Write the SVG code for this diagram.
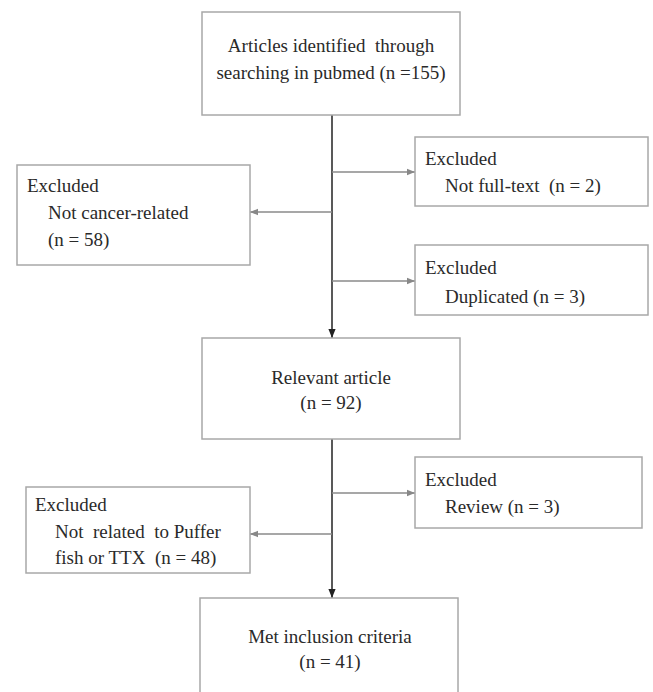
<svg xmlns="http://www.w3.org/2000/svg" width="653" height="692" viewBox="0 0 653 692">
<defs>
<marker id="ah" viewBox="0 0 10 10" refX="10" refY="5" markerWidth="8" markerHeight="8" markerUnits="userSpaceOnUse" orient="auto"><path d="M0,1 L10,5 L0,9 z" fill="#888"/></marker>
<marker id="ahd" viewBox="0 0 10 10" refX="10" refY="5" markerWidth="9" markerHeight="9" markerUnits="userSpaceOnUse" orient="auto"><path d="M0,1 L10,5 L0,9 z" fill="#222"/></marker>
</defs>
<style>
rect{fill:#fff;stroke:#a8a8a8;stroke-width:1.5}
text{font-family:'Liberation Serif','DejaVu Serif',serif;font-size:19px;fill:#2a2a2a}
.c{text-anchor:middle}
.side{stroke:#8a8a8a;stroke-width:1.5;fill:none}
.main{stroke:#222;stroke-width:1.5;fill:none}
</style>
<rect x="0" y="0" width="653" height="692" style="fill:#fff;stroke:none"/>
<g id="connectors">
<line class="main" x1="332" y1="115" x2="332" y2="338" marker-end="url(#ahd)"/>
<line class="main" x1="332" y1="439" x2="332" y2="598" marker-end="url(#ahd)"/>
<line class="side" x1="332" y1="172" x2="415" y2="172" marker-end="url(#ah)"/>
<line class="side" x1="332" y1="212" x2="250" y2="212" marker-end="url(#ah)"/>
<line class="side" x1="332" y1="281" x2="415" y2="281" marker-end="url(#ah)"/>
<line class="side" x1="332" y1="493" x2="415" y2="493" marker-end="url(#ah)"/>
<line class="side" x1="332" y1="534" x2="250" y2="534" marker-end="url(#ah)"/>
</g>
<g id="n-identified">
<rect x="202" y="12" width="258" height="103"/>
<text class="c" x="331" y="52" xml:space="preserve">Articles identified  through</text>
<text class="c" x="331" y="79">searching in pubmed (n =155)</text>
</g>
<g id="n-fulltext">
<rect x="415" y="137" width="233" height="69"/>
<text x="425" y="165">Excluded</text>
<text x="445" y="192" xml:space="preserve">Not full-text  (n = 2)</text>
</g>
<g id="n-cancer">
<rect x="17" y="165" width="233" height="100"/>
<text x="27" y="192">Excluded</text>
<text x="48" y="219">Not cancer-related</text>
<text x="48" y="246">(n = 58)</text>
</g>
<g id="n-duplicated">
<rect x="415" y="245" width="233" height="70"/>
<text x="425" y="274">Excluded</text>
<text x="445" y="303">Duplicated (n = 3)</text>
</g>
<g id="n-relevant">
<rect x="202" y="338" width="258" height="101"/>
<text class="c" x="331" y="384">Relevant article</text>
<text class="c" x="331" y="409">(n = 92)</text>
</g>
<g id="n-review">
<rect x="415" y="457" width="227" height="71"/>
<text x="425" y="486">Excluded</text>
<text x="445" y="513">Review (n = 3)</text>
</g>
<g id="n-puffer">
<rect x="26" y="487" width="224" height="86"/>
<text x="35" y="511">Excluded</text>
<text x="55" y="538" xml:space="preserve">Not  related  to Puffer</text>
<text x="55" y="564" xml:space="preserve">fish or TTX  (n = 48)</text>
</g>
<g id="n-included">
<rect x="200" y="598" width="258" height="110"/>
<text class="c" x="330" y="643">Met inclusion criteria</text>
<text class="c" x="330" y="668">(n = 41)</text>
</g>
</svg>
